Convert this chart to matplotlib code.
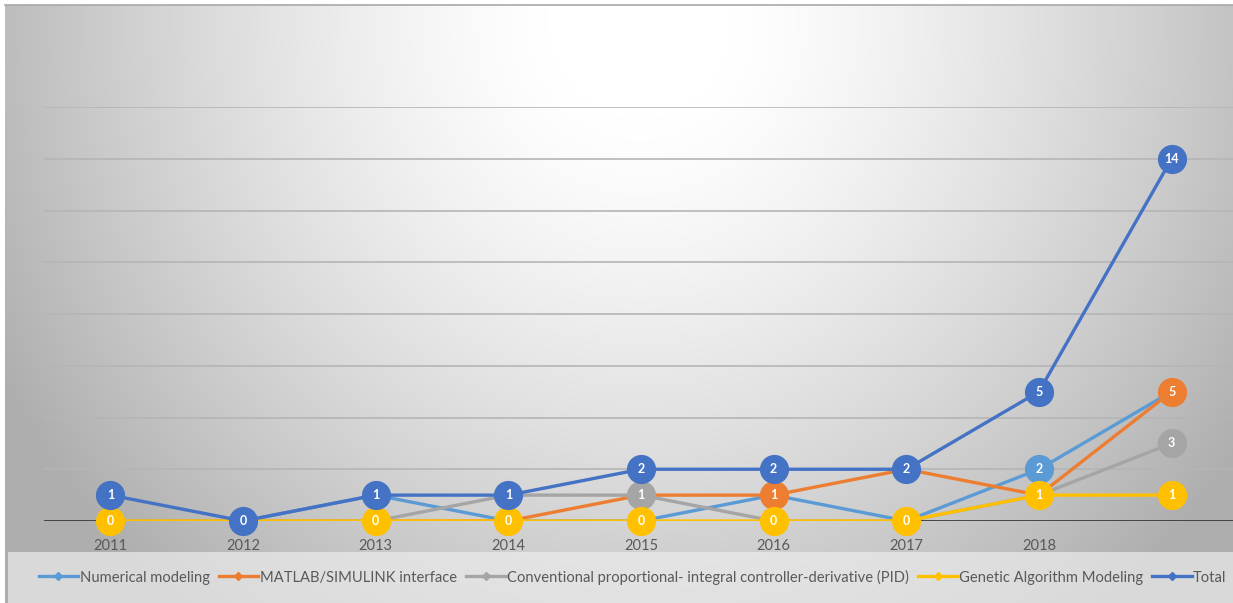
import numpy as np
import matplotlib.pyplot as plt
from matplotlib.lines import Line2D

plt.rcParams['font.family'] = ['Lato', 'DejaVu Sans']

years = ['2011', '2012', '2013', '2014', '2015', '2016', '2017', '2018', '']
numerical = [0, 0, 1, 0, 0, 1, 0, 2, 5]
matlab = [0, 0, 0, 0, 1, 1, 2, 1, 5]
pid = [0, 0, 0, 1, 1, 0, 0, 1, 3]
genetic = [0, 0, 0, 0, 0, 0, 0, 1, 1]
total = [1, 0, 1, 1, 2, 2, 2, 5, 14]

names = ['Numerical modeling', 'MATLAB/SIMULINK interface',
         'Conventional proportional- integral controller-derivative (PID)',
         'Genetic Algorithm Modeling', 'Total']
colors = ['#5B9BD5', '#ED7D31', '#A5A5A5', '#FFC000', '#4472C4']
series = [numerical, matlab, pid, genetic, total]
# which points carry a data label (circle callout)
labelled = [
    [7],
    [5, 8],
    [4, 8],
    [0, 2, 3, 4, 5, 6, 7, 8],
    [0, 1, 2, 3, 4, 5, 6, 7, 8],
]

W, H = 1233, 603
fig = plt.figure(figsize=(W / 100, H / 100), dpi=100)

# background gradient
bg = fig.add_axes([0, 0, 1, 1], zorder=-10)
xx, yy = np.meshgrid(np.arange(W), np.arange(H))
d = np.sqrt(((xx - 640) / 620.0) ** 2 + ((yy - 20) / 650.0) ** 2)
v = 1 - 0.25 * np.clip((d - 0.15) / 0.85, 0, 1.2) ** 1.3
v[:5, :] = 1
v[:, :5] = 1
img = np.dstack([v, v, v])
bg.imshow(img, aspect='auto', extent=[0, W, H, 0])
bg.plot([5, W], [5, 5], color='#a8a8a8', lw=1.2)
bg.add_patch(plt.Rectangle((8, 552), W - 8, 51, color='#ececec', alpha=0.7, lw=0))
bg.set_xlim(0, W)
bg.set_ylim(H, 0)
bg.axis('off')

ax = fig.add_axes([44 / W, (H - 521) / H, 1194 / W, 414 / H])
ax.patch.set_alpha(0)
x = np.arange(len(years))
ax.set_xlim(-0.5, len(years) - 0.5)
ax.set_ylim(0, 16)
for s in ax.spines.values():
    s.set_visible(False)
ax.set_yticks(np.arange(2, 17, 2))
ax.yaxis.grid(True, color='#b5b5b5', lw=1.2)
ax.tick_params(axis='y', length=0, labelleft=False)
ax.axhline(0, color='#3a3a3a', lw=2, zorder=1)
ax.set_xticks(x)
ax.set_xticklabels(years, fontsize=10.5, color='#595959')
ax.tick_params(axis='x', length=0, pad=13)

zorders = [3, 4, 5, 6, 7]
for vals, c, lab, z in zip(series, colors, labelled, zorders):
    ax.plot(x, vals, color=c, lw=2.4, zorder=z, solid_capstyle='round')
for vals, c, lab, z in zip(series, colors, labelled, zorders):
    for i in lab:
        ax.plot(x[i], vals[i], 'o', ms=20, color=c, mec=c, zorder=z + 10, clip_on=False)
        ax.text(x[i], vals[i], str(vals[i]), ha='center', va='center', color='white',
                fontsize=9, fontweight='bold', zorder=z + 11, clip_on=False)

handles = [Line2D([0], [0], color=c, lw=2.4, marker='D', ms=4) for c in colors]
fig.legend(handles, names, loc='center', bbox_to_anchor=(0.513, (H - 577) / H), ncol=5,
           frameon=False, fontsize=10.6, labelcolor='#595959', handlelength=2.7,
           handletextpad=0.1, columnspacing=0.6)

fig.savefig('out.png', dpi=100)
